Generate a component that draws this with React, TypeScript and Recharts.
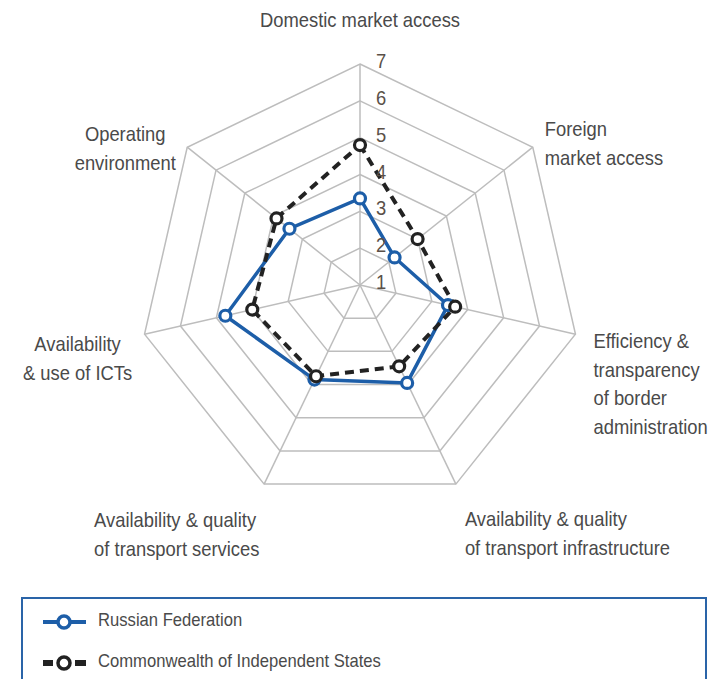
import React from "react";
import {
  RadarChart,
  Radar,
  PolarGrid,
  PolarAngleAxis,
  PolarRadiusAxis,
} from "recharts";

// pillar names, clockwise from the top
const categories = [
  "Domestic market access",
  "Foreign market access",
  "Efficiency & transparency of border administration",
  "Availability & quality of transport infrastructure",
  "Availability & quality of transport services",
  "Availability & use of ICTs",
  "Operating environment",
];

// label text as it is broken in the figure
const categoryLines = [
  ["Domestic market access"],
  ["Foreign", "market access"],
  ["Efficiency &", "transparency", "of border", "administration"],
  ["Availability & quality", "of transport infrastructure"],
  ["Availability & quality", "of transport services"],
  ["Availability", "& use of ICTs"],
  ["Operating", "environment"],
];

const russia = [3.35, 2.2, 3.45, 3.95, 3.85, 4.75, 3.45];
const cis = [4.8, 3.0, 3.65, 3.45, 3.75, 4.0, 3.9];

const radiusTicks = [1, 2, 3, 4, 5, 6, 7];

const seriesNames = ["Russian Federation", "Commonwealth of Independent States"];

// label placement relative to each outer vertex
const labelLayout = [
  { anchor: "middle", dx: 0, dy: -37 },
  { anchor: "start", dx: 12, dy: -11 },
  { anchor: "start", dx: 18, dy: 14 },
  { anchor: "start", dx: 9, dy: 42 },
  { anchor: "start", dx: -170, dy: 43 },
  { anchor: "middle", dx: -67, dy: 17 },
  { anchor: "middle", dx: -62, dy: -6 },
];

const FONT = "'Liberation Sans', Arial, sans-serif";
const NARROW = 0.875; // the figure uses a condensed face
const TEXT = "#4a4a4a";
const BLUE = "#1d5ea8";
const DARK = "#222222";

const data = categories.map((name, i) => ({
  name,
  russia: russia[i],
  cis: cis[i],
}));

const CX = 360;
const CY = 285;
const R = 221;

function AngleTick(props: any) {
  const { payload, index } = props;
  const i = typeof index === "number" ? index : payload.index;
  const angle = (payload.coordinate * Math.PI) / 180;
  const vx = CX + R * Math.cos(angle);
  const vy = CY - R * Math.sin(angle);
  const lay = labelLayout[i];
  const lines = categoryLines[i];
  return (
    <g transform={`translate(${vx + lay.dx},${vy + lay.dy}) scale(${NARROW},1)`}>
      <text x={0} y={0} textAnchor={lay.anchor} fontFamily={FONT} fontSize={21} fill={TEXT}>
        {lines.map((l, k) => (
          <tspan key={k} x={0} dy={k === 0 ? 0 : 28.5}>
            {l}
          </tspan>
        ))}
      </text>
    </g>
  );
}

function RadiusTick(props: any) {
  const { x, y, payload } = props;
  return (
    <g transform={`translate(${x + 16},${y + 4}) scale(${NARROW},1)`}>
      <text x={0} y={0} textAnchor="start" fontFamily={FONT} fontSize={21} fill="#5a5048">
        {payload.value}
      </text>
    </g>
  );
}

function makeDot(color: string) {
  return (props: any) => {
    const { cx, cy, index } = props;
    return (
      <circle
        key={`dot-${color}-${index}`}
        cx={cx}
        cy={cy}
        r={5.5}
        fill="#ffffff"
        stroke={color}
        strokeWidth={3.2}
      />
    );
  };
}

function LegendBox() {
  const txt: React.CSSProperties = {
    position: "absolute",
    left: 75,
    transform: `scaleX(${NARROW})`,
    transformOrigin: "left center",
    whiteSpace: "nowrap",
  };
  return (
    <div
      style={{
        position: "absolute",
        left: 21,
        top: 597,
        width: 686,
        height: 120,
        border: "2px solid #2a64a8",
        fontFamily: FONT,
        fontSize: 19,
        color: TEXT,
        boxSizing: "border-box",
      }}
    >
      <svg width={70} height={90} style={{ position: "absolute", left: 18, top: 0 }}>
        <line x1={2} y1={23} x2={45} y2={23} stroke={BLUE} strokeWidth={4} />
        <circle cx={23} cy={23} r={6} fill="#fff" stroke={BLUE} strokeWidth={3.5} />
        <line x1={2} y1={64} x2={12} y2={64} stroke={DARK} strokeWidth={6} />
        <line x1={34} y1={64} x2={45} y2={64} stroke={DARK} strokeWidth={6} />
        <circle cx={23} cy={64} r={6} fill="#fff" stroke={DARK} strokeWidth={3.5} />
      </svg>
      <div style={{ ...txt, top: 10 }}>{seriesNames[0]}</div>
      <div style={{ ...txt, top: 51 }}>{seriesNames[1]}</div>
    </div>
  );
}

export default function App() {
  return (
    <div style={{ position: "absolute", left: 0, top: 0, width: 719, height: 679, overflow: "hidden", background: "#fff" }}>
      <RadarChart
        width={719}
        height={679}
        data={data}
        cx={CX}
        cy={CY}
        outerRadius={R}
        startAngle={90}
        endAngle={-270}
        margin={{ top: 0, right: 0, bottom: 0, left: 0 }}
      >
        <PolarGrid gridType="polygon" stroke="#bdbdbd" strokeWidth={1.5} />
        <PolarAngleAxis dataKey="name" tick={AngleTick} axisLine={false} tickLine={false} />
        <PolarRadiusAxis
          angle={90}
          domain={[1, 7]}
          ticks={radiusTicks as any}
          tickCount={7}
          axisLine={false}
          tickLine={false}
          tick={RadiusTick}
        />
        <Radar
          name={seriesNames[0]}
          dataKey="russia"
          stroke={BLUE}
          strokeWidth={3.5}
          fill="none"
          fillOpacity={0}
          dot={makeDot(BLUE)}
          isAnimationActive={false}
        />
        <Radar
          name={seriesNames[1]}
          dataKey="cis"
          stroke={DARK}
          strokeWidth={4}
          strokeDasharray="9 6"
          fill="none"
          fillOpacity={0}
          dot={makeDot(DARK)}
          isAnimationActive={false}
        />
      </RadarChart>
      <LegendBox />
    </div>
  );
}
